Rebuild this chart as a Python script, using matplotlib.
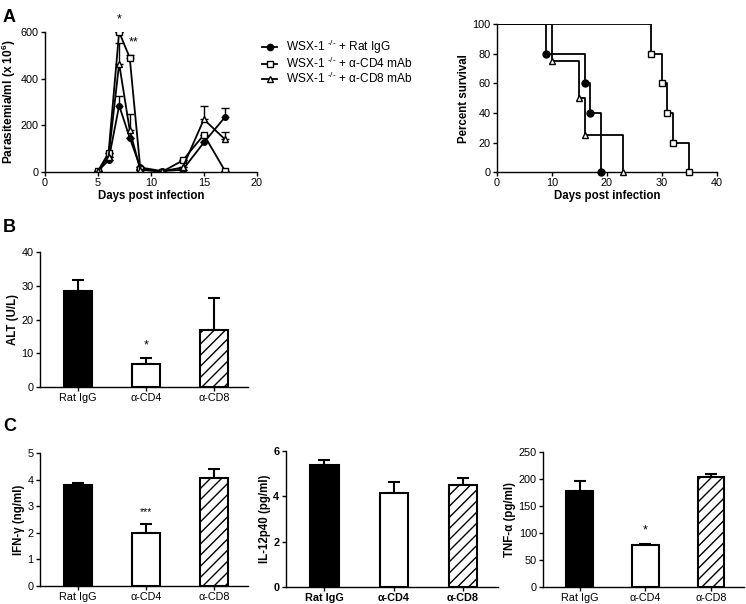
import numpy as np
import matplotlib
matplotlib.use("Agg")
import matplotlib.pyplot as plt
from matplotlib.lines import Line2D

# ---------------------------------------------------------------------------- #
#                                     DATA                                     #
# ---------------------------------------------------------------------------- #
days = [5, 6, 7, 8, 9, 11, 13, 15, 17]
para_rat = [5, 50, 285, 147, 20, 5, 10, 127, 236]
para_rat_err = [0, 0, 40, 0, 0, 0, 0, 0, 38]
para_cd4 = [5, 82, 600, 490, 15, 0, 50, 160, 5]
para_cd4_err = [0, 0, 0, 12, 0, 0, 0, 0, 0]
para_cd8 = [3, 65, 465, 180, 10, 3, 20, 226, 140]
para_cd8_err = [0, 0, 90, 67, 0, 0, 0, 58, 32]

surv_rat_t = [0, 9, 16, 17, 19]
surv_rat = [100, 80, 60, 40, 0]
surv_cd4_t = [0, 28, 30, 31, 32, 35]
surv_cd4 = [100, 80, 60, 40, 20, 0]
surv_cd8_t = [0, 10, 15, 16, 23]
surv_cd8 = [100, 75, 50, 25, 0]

legend_labels = [r"WSX-1 $^{\text{-/-}}$ + Rat IgG",
                 r"WSX-1 $^{\text{-/-}}$ + " + "\u03b1-CD4 mAb",
                 r"WSX-1 $^{\text{-/-}}$ + " + "\u03b1-CD8 mAb"]

groups = ["Rat IgG", "\u03b1-CD4", "\u03b1-CD8"]
alt = [28.5, 7.0, 17.0]
alt_err = [3.2, 1.5, 9.3]
ifn = [3.8, 1.98, 4.08]
ifn_err = [0.06, 0.36, 0.34]
il12 = [5.4, 4.15, 4.5]
il12_err = [0.2, 0.47, 0.3]
tnf = [178, 78, 203]
tnf_err = [19, 2, 6]

# ---------------------------------------------------------------------------- #
#                                    STYLE                                     #
# ---------------------------------------------------------------------------- #
plt.rcParams["font.family"] = ["Liberation Sans", "DejaVu Sans"]
plt.rcParams["font.size"] = 7.5
plt.rcParams["mathtext.fontset"] = "custom"
plt.rcParams["mathtext.rm"] = "Liberation Sans"
plt.rcParams["mathtext.bf"] = "Liberation Sans:bold"
plt.rcParams["mathtext.default"] = "regular"
plt.rcParams["hatch.linewidth"] = 1.0
plt.rcParams["axes.linewidth"] = 1.0

fig = plt.figure(figsize=(7.46, 6.04), dpi=100)


def style_axes(ax):
    ax.spines["top"].set_visible(False)
    ax.spines["right"].set_visible(False)
    ax.tick_params(direction="out", length=3, width=1, labelsize=7.8, pad=1.5)


# ---------------------------------------------------------------------------- #
#                              A: PARASITEMIA                                  #
# ---------------------------------------------------------------------------- #
ax = fig.add_axes([0.0603, 0.715, 0.284, 0.232])
lw = 1.3
zeros = np.zeros(len(days))
ax.errorbar(days, para_rat, yerr=[zeros, para_rat_err], color="black",
            marker="o", ms=4, lw=lw, capsize=3, elinewidth=1)
ax.errorbar(days, para_cd4, yerr=[zeros, para_cd4_err], color="black",
            marker="s", ms=5, mfc="white", lw=lw, capsize=3, elinewidth=1)
ax.errorbar(days, para_cd8, yerr=[zeros, para_cd8_err], color="black",
            marker="^", ms=5, mfc="white", lw=lw, capsize=3, elinewidth=1)
ax.set_xlim(0, 20)
ax.set_ylim(0, 600)
ax.set_xticks([0, 5, 10, 15, 20])
ax.set_yticks([0, 200, 400, 600])
ax.set_xlabel("Days post infection", fontweight="bold", fontsize=8.3, labelpad=1)
ax.set_ylabel(r"Parasitemia/ml (x 10$^{\mathbf{6}}$)", fontweight="bold", fontsize=8.6, labelpad=2)
style_axes(ax)
ax.text(7, 655, "*", ha="center", va="center", fontsize=9, clip_on=False)
ax.text(8.4, 555, "**", ha="center", va="center", fontsize=9, clip_on=False)

handles = [
    Line2D([], [], color="black", lw=lw, marker="o", ms=4.5),
    Line2D([], [], color="black", lw=lw, marker="s", ms=5, mfc="white"),
    Line2D([], [], color="black", lw=lw, marker="^", ms=5, mfc="white"),
]
ax.legend(handles, legend_labels, loc="upper left", bbox_to_anchor=(1.024, 0.96),
          frameon=False, fontsize=8.6, handlelength=1.3, handletextpad=0.75,
          labelspacing=0.0, borderaxespad=0, borderpad=0)

# ---------------------------------------------------------------------------- #
#                              A: SURVIVAL                                     #
# ---------------------------------------------------------------------------- #
ax = fig.add_axes([0.666, 0.715, 0.295, 0.245])
for t, s, m in [(surv_rat_t, surv_rat, "o"), (surv_cd4_t, surv_cd4, "s"), (surv_cd8_t, surv_cd8, "^")]:
    ax.step(t, s, where="post", color="black", lw=1.3)
    mfc = "black" if m == "o" else "white"
    ax.plot(t[1:], s[1:], ls="none", marker=m, ms=5, mfc=mfc, mec="black", mew=1,
            clip_on=False, zorder=3)
ax.set_xlim(0, 40)
ax.set_ylim(0, 100)
ax.set_xticks([0, 10, 20, 30, 40])
ax.set_yticks([0, 20, 40, 60, 80, 100])
ax.set_xlabel("Days post infection", fontweight="bold", fontsize=8.3, labelpad=1)
ax.set_ylabel("Percent survival", fontweight="bold", fontsize=8.3, labelpad=2)
style_axes(ax)


# ---------------------------------------------------------------------------- #
#                              BAR PANELS                                      #
# ---------------------------------------------------------------------------- #
def bar_panel(rect, vals, errs, ylim, yticks, ylabel, bold_ticks=False):
    ax = fig.add_axes(rect)
    x = np.arange(len(groups))
    ax.bar(x, vals, width=0.41, color=["black", "white", "white"], edgecolor="black",
           linewidth=1.5, hatch=["", "", "///"], zorder=2)
    ax.errorbar(x, vals, yerr=[np.zeros(len(x)), errs], fmt="none", ecolor="black",
                elinewidth=1.5, capsize=4, capthick=1.5, zorder=1)
    ax.set_xlim(-0.56, 2.5)
    ax.set_ylim(*ylim)
    ax.set_yticks(yticks)
    ax.set_xticks(x)
    ax.set_xticklabels(groups)
    ax.set_ylabel(ylabel, fontweight="bold", fontsize=8.3, labelpad=2)
    style_axes(ax)
    if bold_ticks:
        for lab in ax.get_xticklabels() + ax.get_yticklabels():
            lab.set_fontweight("bold")
    return ax


ax = bar_panel([0.0536, 0.359, 0.279, 0.2235], alt, alt_err, (0, 40), [0, 10, 20, 30, 40], "ALT (U/L)")
ax.text(1, 12.5, "*", ha="center", va="center", fontsize=9)

ax = bar_panel([0.0536, 0.0298, 0.279, 0.220], ifn, ifn_err, (0, 5), [0, 1, 2, 3, 4, 5],
               "IFN-\u03b3 (ng/ml)")
ax.text(1, 2.8, "***", ha="center", va="center", fontsize=7.5)

bar_panel([0.383, 0.028, 0.284, 0.225], il12, il12_err, (0, 6), [0, 2, 4, 6],
          "IL-12p40 (pg/ml)", bold_ticks=True)

ax = bar_panel([0.728, 0.028, 0.269, 0.2235], tnf, tnf_err, (0, 250), [0, 50, 100, 150, 200, 250],
               "TNF-\u03b1 (pg/ml)")
ax.text(1, 105, "*", ha="center", va="center", fontsize=9)

# panel letters
fig.text(0.004, 0.985, "A", fontsize=13, fontweight="bold", va="top")
fig.text(0.004, 0.638, "B", fontsize=13, fontweight="bold", va="top")
fig.text(0.004, 0.308, "C", fontsize=13, fontweight="bold", va="top")

fig.savefig("out.png", dpi=100)
